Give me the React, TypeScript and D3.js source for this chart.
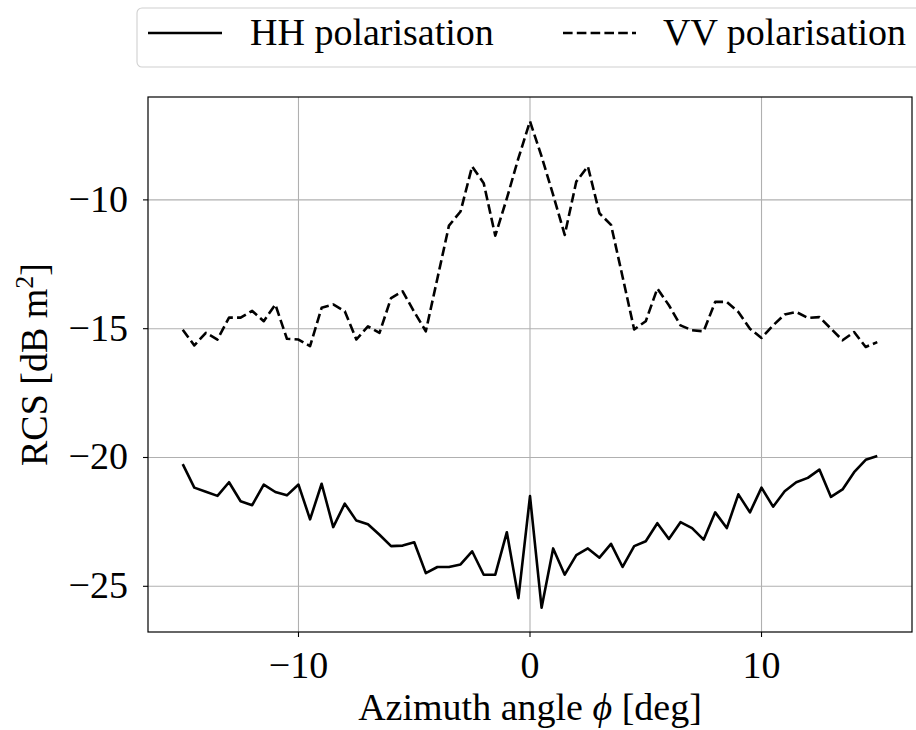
import React from "react";
import * as d3 from "d3";

const angles: number[] = d3.range(-15, 15.001, 0.5).map((v) => +v.toFixed(1));

const hhValues: number[] = [
  -20.26, -21.17, -21.33, -21.49, -20.96, -21.7, -21.85, -21.05, -21.34, -21.47,
  -21.05, -22.4, -21.02, -22.7, -21.79, -22.45, -22.59, -23.0, -23.44, -23.42,
  -23.29, -24.49, -24.25, -24.25, -24.15, -23.64, -24.55, -24.55, -22.9, -25.46,
  -21.5, -25.83, -23.53, -24.55, -23.79, -23.53, -23.89, -23.35, -24.25, -23.44,
  -23.25, -22.55, -23.16, -22.51, -22.74, -23.19, -22.13, -22.74, -21.43, -22.13,
  -21.17, -21.91, -21.31, -20.96, -20.79, -20.47, -21.53, -21.24, -20.57, -20.09,
  -19.94,
];

const vvValues: number[] = [
  -15.04, -15.65, -15.16, -15.42, -14.57, -14.57, -14.31, -14.71, -14.06, -15.39,
  -15.42, -15.68, -14.19, -14.06, -14.32, -15.42, -14.91, -15.16, -13.81, -13.55,
  -14.35, -15.1, -13.05, -11.0, -10.45, -8.7, -9.35, -11.39, -9.94, -8.38,
  -6.95, -8.31, -9.81, -11.36, -9.29, -8.7, -10.52, -10.97, -12.99, -15.03,
  -14.71, -13.44, -14.09, -14.87, -15.06, -15.1, -13.96, -13.96, -14.35, -15.0,
  -15.36, -14.87, -14.45, -14.35, -14.58, -14.55, -15.0, -15.45, -15.13, -15.71,
  -15.52,
];

const xTicks: number[] = [-10, 0, 10];
const yTicks: number[] = [-25, -20, -15, -10];
const legendLabels: string[] = ["HH polarisation", "VV polarisation"];

const W = 916;
const H = 730;
const L = 148;
const R = 912;
const T = 97;
const B = 632;
const FONT = "'Liberation Serif', 'DejaVu Serif', serif";
const LW = 2.6;
const DASH = "9.6,4.2";

const fmt = (v: number) => (v < 0 ? "\u2212" + Math.abs(v) : String(v));

export default function App() {
  const allY = hhValues.concat(vvValues);
  const yMin = d3.min(allY)!;
  const yMax = d3.max(allY)!;
  const yPad = (yMax - yMin) * 0.05;
  const xPad = (15 - -15) * 0.05;
  const x = d3.scaleLinear().domain([-15 - xPad, 15 + xPad]).range([L, R]);
  const y = d3.scaleLinear().domain([yMin - yPad, yMax + yPad]).range([B, T]);

  const line = d3
    .line<number>()
    .x((_, i) => x(angles[i]))
    .y((d) => y(d));

  const fs = 38;

  return (
    <svg
      width={W}
      height={H}
      style={{ position: "absolute", left: 0, top: 0, background: "#fff" }}
      fontFamily={FONT}
    >
      <rect x={0} y={0} width={W} height={H} fill="#fff" />
      {xTicks.map((t) => (
        <line key={"gx" + t} x1={x(t)} x2={x(t)} y1={T} y2={B} stroke="#b0b0b0" strokeWidth={1.1} />
      ))}
      {yTicks.map((t) => (
        <line key={"gy" + t} x1={L} x2={R} y1={y(t)} y2={y(t)} stroke="#b0b0b0" strokeWidth={1.1} />
      ))}
      <defs>
        <clipPath id="plotclip">
          <rect x={L} y={T} width={R - L} height={B - T} />
        </clipPath>
      </defs>
      <g clipPath="url(#plotclip)">
        <path d={line(hhValues)!} fill="none" stroke="#000" strokeWidth={LW} strokeLinejoin="round" />
        <path
          d={line(vvValues)!}
          fill="none"
          stroke="#000"
          strokeWidth={LW}
          strokeDasharray={DASH}
          strokeLinejoin="round"
        />
      </g>
      <rect x={L} y={T} width={R - L} height={B - T} fill="none" stroke="#000" strokeWidth={1.2} />
      {xTicks.map((t) => (
        <g key={"tx" + t}>
          <line x1={x(t)} x2={x(t)} y1={B} y2={B + 5} stroke="#000" strokeWidth={1.1} />
          <text x={x(t)} y={678} textAnchor="middle" fontSize={fs} fill="#000">
            {fmt(t)}
          </text>
        </g>
      ))}
      {yTicks.map((t) => (
        <g key={"ty" + t}>
          <line x1={L - 5} x2={L} y1={y(t)} y2={y(t)} stroke="#000" strokeWidth={1.1} />
          <text x={L - 20} y={y(t) + 12} textAnchor="end" fontSize={fs} fill="#000">
            {fmt(t)}
          </text>
        </g>
      ))}
      <text x={(L + R) / 2} y={720} textAnchor="middle" fontSize={fs} fill="#000">
        Azimuth angle <tspan fontStyle="italic">ϕ</tspan> [deg]
      </text>
      <text
        transform={`translate(47, ${(T + B) / 2}) rotate(-90)`}
        textAnchor="middle"
        fontSize={fs}
        fill="#000"
      >
        RCS [dB m<tspan dy={-14} fontSize={26}>2</tspan>
        <tspan dy={14}>]</tspan>
      </text>
      <rect x={137} y={8} width={800} height={59} rx={5} ry={5} fill="#fff" stroke="#d0d0d0" strokeWidth={1.1} />
      <line x1={148} x2={222} y1={33} y2={33} stroke="#000" strokeWidth={LW} />
      <text x={250} y={45} fontSize={fs} fill="#000">
        {legendLabels[0]}
      </text>
      <line x1={563} x2={636} y1={33} y2={33} stroke="#000" strokeWidth={LW} strokeDasharray={DASH} />
      <text x={663} y={45} fontSize={fs} fill="#000">
        {legendLabels[1]}
      </text>
    </svg>
  );
}
